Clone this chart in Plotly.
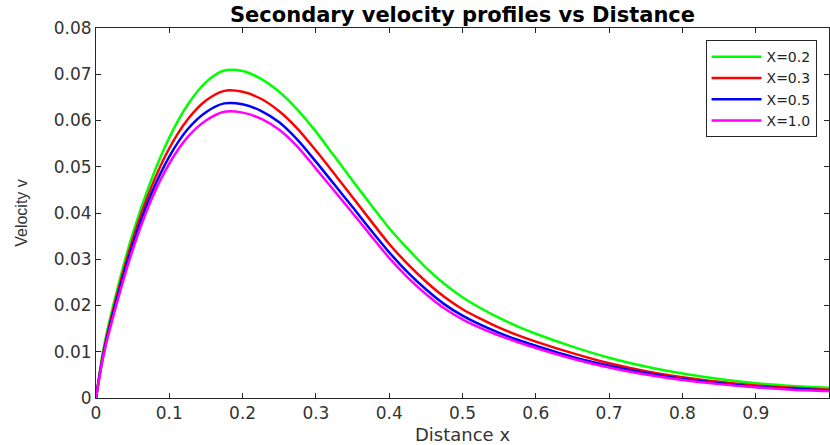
import plotly.graph_objects as go

x_vals = [0, 0.01, 0.025, 0.05, 0.075, 0.1, 0.125, 0.15, 0.175, 0.2, 0.225, 0.25, 0.275,
          0.3, 0.325, 0.35, 0.375, 0.4, 0.425, 0.45, 0.475, 0.5, 0.525, 0.55, 0.575, 0.6,
          0.65, 0.7, 0.75, 0.8, 0.85, 0.9, 0.95, 1.0]

v_x02 = [0, 0.0105, 0.0210, 0.0355, 0.0470, 0.0563, 0.0634, 0.0683, 0.0708, 0.0707, 0.0690,
         0.0662, 0.0623, 0.0576, 0.0523, 0.0470, 0.0418, 0.0367, 0.0323, 0.0282, 0.0247,
         0.0218, 0.0194, 0.0173, 0.0155, 0.0139, 0.0111, 0.0087, 0.0068, 0.0053, 0.0041,
         0.0032, 0.0026, 0.0022]
v_x03 = [0, 0.0098, 0.0200, 0.0342, 0.0454, 0.0540, 0.0602, 0.0643, 0.0664, 0.0662, 0.0647,
         0.0620, 0.0582, 0.0535, 0.0485, 0.0434, 0.0383, 0.0333, 0.0290, 0.0252, 0.0219,
         0.0192, 0.0171, 0.0152, 0.0136, 0.0122, 0.0097, 0.0075, 0.0058, 0.0045, 0.0035,
         0.0027, 0.0022, 0.0018]
v_x05 = [0, 0.0094, 0.0193, 0.0331, 0.0440, 0.0522, 0.0581, 0.0618, 0.0637, 0.0635, 0.0621,
         0.0596, 0.0558, 0.0511, 0.0462, 0.0413, 0.0363, 0.0315, 0.0272, 0.0235, 0.0203,
         0.0178, 0.0158, 0.0141, 0.0126, 0.0113, 0.0089, 0.0070, 0.0054, 0.0041, 0.0032,
         0.0024, 0.0020, 0.0016]
v_x10 = [0, 0.0090, 0.0185, 0.0320, 0.0427, 0.0507, 0.0564, 0.0600, 0.0619, 0.0617, 0.0604,
         0.0580, 0.0543, 0.0496, 0.0448, 0.0400, 0.0351, 0.0303, 0.0261, 0.0225, 0.0194,
         0.0170, 0.0151, 0.0135, 0.0121, 0.0108, 0.0085, 0.0066, 0.0051, 0.0039, 0.0030,
         0.0023, 0.0018, 0.0015]

series_names = ["X=0.2", "X=0.3", "X=0.5", "X=1.0"]
series_vals = [v_x02, v_x03, v_x05, v_x10]
series_colors = ["#00FF00", "#FF0000", "#0000FF", "#FF00FF"]

fig = go.Figure()
for name, vals, col in zip(series_names, series_vals, series_colors):
    fig.add_trace(go.Scatter(x=x_vals, y=vals, mode="lines", name=name,
                             line=dict(color=col, width=2.5, shape="spline", smoothing=0.8)))

axis_col = "#262626"
fig.update_layout(
    width=830, height=445,
    margin=dict(l=96, r=1, t=28, b=47),
    paper_bgcolor="white", plot_bgcolor="white",
    title=dict(text="<b>Secondary velocity profiles vs Distance</b>", x=0.5, xref="paper",
               y=0.968, yanchor="middle",
               font=dict(family="DejaVu Sans", size=21, color="black")),
    font=dict(family="DejaVu Sans", color="#333333"),
    legend=dict(x=0.983, y=0.967, xanchor="right", yanchor="top",
                bgcolor="white", bordercolor=axis_col, borderwidth=1,
                font=dict(family="DejaVu Sans", size=14, color="#222222"),
                tracegroupgap=0, itemwidth=50),
    showlegend=True,
)
fig.update_xaxes(range=[0, 1], dtick=0.1, tick0=0, showgrid=False, zeroline=False,
                 showline=True, linecolor=axis_col, linewidth=1, mirror="ticks",
                 ticks="inside", ticklen=5, tickcolor=axis_col,
                 tickfont=dict(family="DejaVu Sans", size=17, color="#333333"),
                 title=dict(text="Distance x", standoff=6,
                            font=dict(family="DejaVu Sans", size=18, color="#333333")))
fig.update_yaxes(range=[0, 0.08], dtick=0.01, tick0=0, showgrid=False, zeroline=False,
                 showline=True, linecolor=axis_col, linewidth=1, mirror="ticks",
                 ticks="inside", ticklen=5, tickcolor=axis_col,
                 tickfont=dict(family="DejaVu Sans", size=17, color="#333333"),
                 title=dict(text="Velocity v", standoff=22,
                            font=dict(family="Liberation Sans", size=16, color="#333333")))

fig.write_html("out.html", config={"displayModeBar": False},
               post_script="document.body.style.margin='0px';")
